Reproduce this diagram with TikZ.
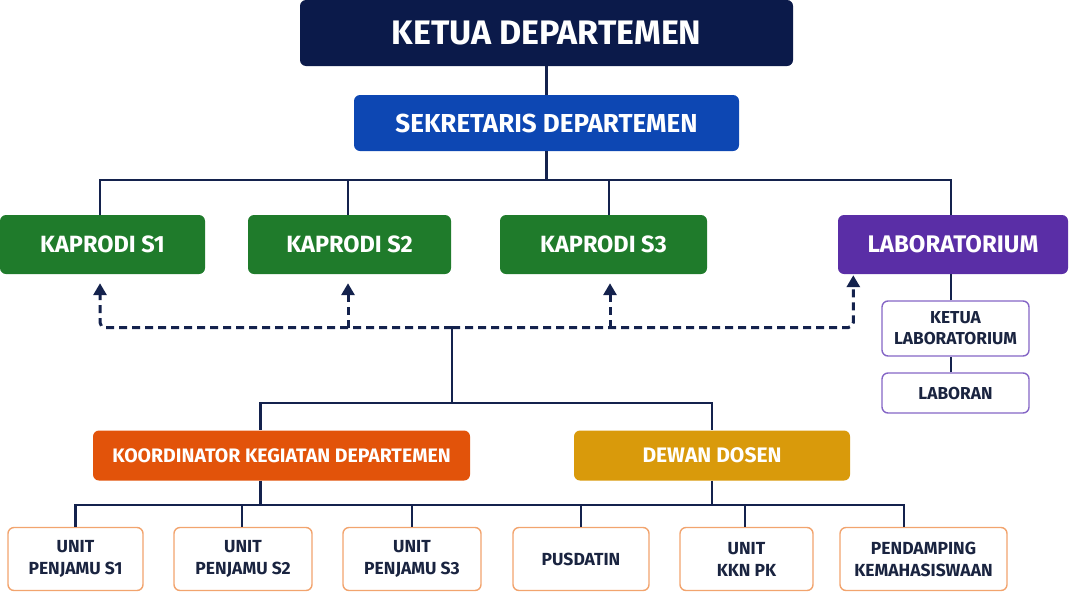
\documentclass[tikz,border=0pt]{standalone}
\usepackage{fontspec}
\setmainfont{Fira Sans}
\usetikzlibrary{arrows.meta}
\definecolor{cnavy}{HTML}{0B1A4A}
\definecolor{cblue}{HTML}{0D47B3}
\definecolor{cgreen}{HTML}{1F7B2B}
\definecolor{cpurple}{HTML}{5A2EA6}
\definecolor{corange}{HTML}{E2530A}
\definecolor{cgold}{HTML}{D99A0B}
\definecolor{cline}{HTML}{14224D}
\definecolor{ctext}{HTML}{1A2440}
\definecolor{cobord}{HTML}{F2A46E}
\definecolor{cpbord}{HTML}{8566C6}
\tikzset{
  box/.style={rounded corners=6pt, inner sep=0pt, align=center, font=\bfseries},
  filled/.style={box, text=white},
  unitbox/.style={box, draw=cobord, line width=1.4pt, fill=white, text=ctext, minimum height=63pt, font=\bfseries\fontsize{17.5}{22}\selectfont},
  labbox/.style={box, draw=cpbord, line width=1.4pt, fill=white, text=ctext, minimum width=147pt, font=\bfseries\fontsize{17.3}{21}\selectfont},
  conn/.style={draw=cline, line width=2.6pt},
  dsh/.style={draw=cline, line width=3pt, dash pattern=on 8pt off 5pt, rounded corners=5pt},
  arr/.style={-{Triangle[length=12pt,width=13pt]}}
}
\begin{document}
\begin{tikzpicture}[x=1pt,y=-1pt]
\useasboundingbox (0,0) rectangle (1070,592);
% top
\node[filled, fill=cnavy, minimum width=493pt, minimum height=66pt, font=\bfseries\fontsize{34}{38}\selectfont] (ketua) at (546.5,33) {KETUA DEPARTEMEN};
\node[filled, fill=cblue, minimum width=385pt, minimum height=56pt, font=\bfseries\fontsize{26}{30}\selectfont] (sek) at (546.5,123) {SEKRETARIS DEPARTEMEN};
% second row
\node[filled, fill=cgreen, minimum width=205pt, minimum height=59pt, font=\bfseries\fontsize{23.5}{28}\selectfont] (k1) at (102.5,244.5) {KAPRODI S1};
\node[filled, fill=cgreen, minimum width=203pt, minimum height=59pt, font=\bfseries\fontsize{23.5}{28}\selectfont] (k2) at (349.5,244.5) {KAPRODI S2};
\node[filled, fill=cgreen, minimum width=207pt, minimum height=59pt, font=\bfseries\fontsize{23.5}{28}\selectfont] (k3) at (603.5,244.5) {KAPRODI S3};
\node[filled, fill=cpurple, minimum width=230pt, minimum height=59pt, font=\bfseries\fontsize{24}{28}\selectfont] (lab) at (953,244.5) {LABORATORIUM};
% lab sub
\node[labbox, minimum height=55pt] (klab) at (955.5,328.5) {KETUA\\LABORATORIUM};
\node[labbox, minimum height=40pt] (laboran) at (955.5,393) {LABORAN};
% third row
\node[filled, fill=corange, minimum width=377pt, minimum height=50pt, font=\bfseries\fontsize{19.5}{24}\selectfont] (koord) at (281.5,455.5) {KOORDINATOR KEGIATAN DEPARTEMEN};
\node[filled, fill=cgold, minimum width=276pt, minimum height=50pt, font=\bfseries\fontsize{21}{24}\selectfont] (dewan) at (712,455.5) {DEWAN DOSEN};
% bottom row
\node[unitbox, minimum width=135pt] (u1) at (75.5,559) {UNIT\\PENJAMU S1};
\node[unitbox, minimum width=138pt] (u2) at (243,559) {UNIT\\PENJAMU S2};
\node[unitbox, minimum width=138pt] (u3) at (412,559) {UNIT\\PENJAMU S3};
\node[unitbox, minimum width=136pt] (u4) at (581,559) {PUSDATIN};
\node[unitbox, minimum width=133pt] (u5) at (746.5,559) {UNIT\\KKN PK};
\node[unitbox, minimum width=167pt] (u6) at (923.5,559) {PENDAMPING\\KEMAHASISWAAN};
% junction coordinates
\coordinate (bus) at (546.5,180);
\coordinate (mid) at (452,327.5);
\coordinate (mid2) at (452,403);
\coordinate (kb) at (260.5,505);
\coordinate (db) at (712,505);
% connectors top
\draw[conn] (ketua.south) -- (sek.north);
\draw[conn] (sek.south) -- (bus);
\draw[conn] (bus) -| ([xshift=-2.5pt]k1.north);
\draw[conn] (bus) -| ([xshift=-1.5pt]k2.north);
\draw[conn] (bus) -| ([xshift=5.5pt]k3.north);
\draw[conn] (bus) -| ([xshift=-2pt]lab.north);
\draw[conn] ([xshift=-4.5pt]klab.north) -- ([xshift=-2pt]lab.south);
\draw[conn] ([xshift=-4.5pt]laboran.north) -- ([xshift=-4.5pt]klab.south);
% dashed
\draw[dsh, arr] (mid) -| ([xshift=-2.5pt,yshift=-9pt]k1.south);
\draw[dsh, arr] (mid) -| ([xshift=15.5pt,yshift=-1pt]lab.south west);
\draw[dsh, arr] ([xshift=-1.5pt]k2.south |- mid) -- ([xshift=-1.5pt,yshift=-9pt]k2.south);
\draw[dsh, arr] ([xshift=6.5pt]k3.south |- mid) -- ([xshift=6.5pt,yshift=-9pt]k3.south);
% lower
\draw[conn] (mid) -- (mid2);
\draw[conn] (mid2) -| ([xshift=-21pt]koord.north);
\draw[conn] (mid2) -| (dewan.north);
\draw[conn] ([xshift=-21pt]koord.south) -- (kb);
\draw[conn] (dewan.south) -- (db);
\draw[conn] (kb) -- (db);
\draw[conn] (kb) -| (u1.north);
\draw[conn] (kb) -| ([xshift=-1pt]u2.north);
\draw[conn] (kb) -| (u3.north);
\draw[conn] (db) -| (u4.north);
\draw[conn] (db) -| ([xshift=-1.5pt]u5.north);
\draw[conn] (db) -| ([xshift=-19.5pt]u6.north);
\end{tikzpicture}
\end{document}
